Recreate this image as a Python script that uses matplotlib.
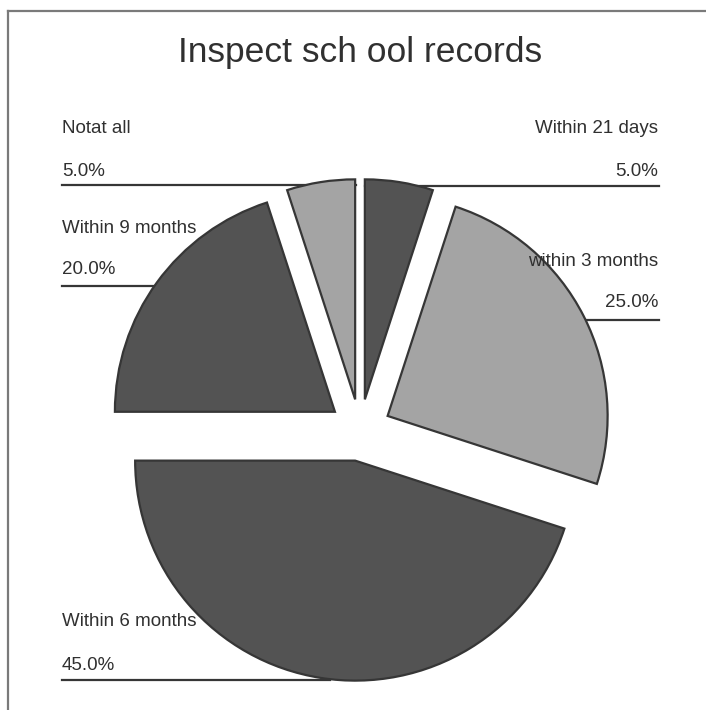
import matplotlib
matplotlib.use("Agg")
import matplotlib.pyplot as plt
from matplotlib.lines import Line2D

# Survey answers, in clockwise order from twelve o'clock
categories = ["Within 21 days", "within 3 months", "Within 6 months",
              "Within 9 months", "Notat all"]
shares = [5.0, 25.0, 45.0, 20.0, 5.0]
pct_labels = ["5.0%", "25.0%", "45.0%", "20.0%", "5.0%"]

DARK = "#535353"
LIGHT = "#a4a4a4"
EDGE = "#363636"
TEXT = "#303030"
colors = [DARK, LIGHT, DARK, DARK, LIGHT]

W, H = 706, 710
fig = plt.figure(figsize=(W / 100, H / 100), dpi=100)
fig.patch.set_facecolor("white")
ax = fig.add_axes([0, 0, 1, 1])


def Y(py):
    """Convert a top-down pixel row into the axis' y value."""
    return H - py


# every wedge pulled out from the centre by the same distance (data units)
ax.pie(shares, colors=colors, startangle=90, counterclock=False,
       explode=[31] * len(shares), center=(360, Y(430)), radius=220,
       wedgeprops=dict(edgecolor=EDGE, linewidth=1.6), frame=True)
ax.set_xlim(0, W)
ax.set_ylim(0, H)
ax.set_aspect("equal")
ax.axis("off")

font = dict(family=["Liberation Sans", "DejaVu Sans"], color=TEXT)
fs = 13.5

# label blocks: (name y, value y, leader line y, line x0, line x1, align, x)
blocks = {
    "Within 21 days": (133, 176, 186, 365, 659, "right", 658),
    "within 3 months": (266, 307, 320, 580, 659, "right", 658),
    "Within 6 months": (626, 670, 680, 62, 330, "left", 62),
    "Within 9 months": (233, 274, 286, 62, 158, "left", 62),
    "Notat all": (133, 176, 185, 62, 356, "left", 62),
}

for name, pct in zip(categories, pct_labels):
    ny, vy, ly, x0, x1, ha, tx = blocks[name]
    ax.text(tx, Y(ny), name, ha=ha, va="baseline", fontsize=fs, zorder=5, **font)
    ax.text(tx, Y(vy), pct, ha=ha, va="baseline", fontsize=fs, zorder=5, **font)
    ax.add_line(Line2D([x0, x1], [Y(ly), Y(ly)], color=EDGE, linewidth=1.6,
                       zorder=0.5))

ax.text(360, Y(62), "Inspect sch ool records", ha="center", va="baseline",
        fontsize=25.5, **font)

# frame lines along the top and left edges
ax.add_line(Line2D([8, W], [Y(11), Y(11)], color="#7a7a7a", linewidth=1.6))
ax.add_line(Line2D([8, 8], [Y(11), 0], color="#7a7a7a", linewidth=1.6))

fig.savefig("out.png", dpi=100, facecolor="white")
